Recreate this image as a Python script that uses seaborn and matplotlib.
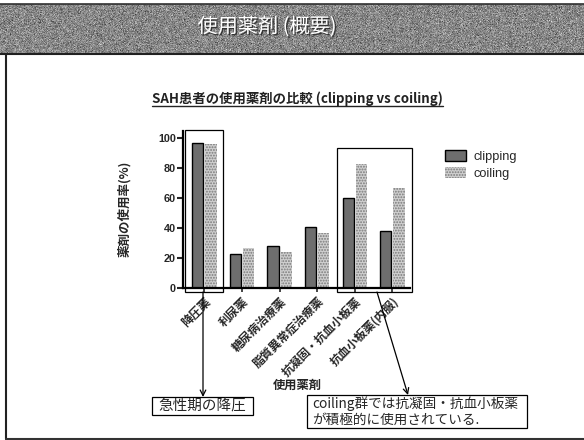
import numpy as np
import pandas as pd
import matplotlib
matplotlib.use("Agg")
import matplotlib.pyplot as plt
import matplotlib.patheffects as pe
from matplotlib.patches import Rectangle, Patch, FancyArrowPatch
from matplotlib.lines import Line2D
import seaborn as sns

# Drug categories and usage rates (%) per treatment group
drugs = ["降圧薬", "利尿薬", "糖尿病治療薬", "脂質異常症治療薬", "抗凝固・抗血小板薬", "抗血小板薬(内服)"]
groups = ["clipping", "coiling"]
clipping = [97, 23, 28, 41, 60, 38]
coiling = [96, 27, 24, 37, 83, 67]
yticks = [0, 20, 40, 60, 80, 100]

df = pd.DataFrame({
    "drug": drugs * 2,
    "rate": clipping + coiling,
    "group": ["clipping"] * len(drugs) + ["coiling"] * len(drugs),
})

sns.set_theme(style="ticks")
plt.rcParams["font.family"] = ["Noto Sans CJK JP", "DejaVu Sans"]
plt.rcParams["hatch.linewidth"] = 0.9

W, H = 584, 440
fig = plt.figure(figsize=(W / 100, H / 100), dpi=100)


def fx(x):
    return x / W


def fy(y):
    return 1 - y / H


# Slide header band with a grainy grey texture
hdr = fig.add_axes([0, fy(55), 1, (55 - 4) / H])
rng = np.random.default_rng(7)
tex = 0.53 + 0.09 * rng.standard_normal((51, 584))
hdr.imshow(np.clip(tex, 0, 1), cmap="gray", vmin=0, vmax=1, aspect="auto",
           interpolation="nearest")
hdr.set_axis_off()
fig.add_artist(Line2D([0, 1], [fy(4.5), fy(4.5)], color="#303030", lw=1.2))
fig.add_artist(Line2D([0, 1], [fy(54.5), fy(54.5)], color="#202020", lw=1.5))
fig.text(fx(267), fy(27), "使用薬剤 (概要)", color="white", fontsize=14.5,
         ha="center", va="center",
         path_effects=[pe.withSimplePatchShadow(offset=(1, -1), shadow_rgbFace="#222222", alpha=0.8)])

# Slide frame
fig.add_artist(Line2D([fx(6), fx(6)], [fy(55), fy(439)], color="#222222", lw=1.5))
fig.add_artist(Line2D([fx(6), 1], [fy(439), fy(439)], color="#333333", lw=1.5))

# Chart title with underline
fig.text(fx(297), fy(99), "SAH患者の使用薬剤の比較 (clipping vs coiling)",
         fontsize=9.6, fontweight="bold", ha="center", va="center", color="#222222")
fig.add_artist(Line2D([fx(152), fx(443)], [fy(106.5), fy(106.5)], color="#222222", lw=1.0))

# Bar chart
ax = fig.add_axes([fx(183), fy(288), 227 / W, 157.5 / H])
sns.barplot(data=df, x="drug", y="rate", hue="group", order=drugs, hue_order=groups,
            palette={"clipping": "#6e6e6e", "coiling": "#cfcfcf"},
            width=0.7, gap=0.15, legend=False, ax=ax)

for bar in ax.containers[0]:
    bar.set_edgecolor("black")
    bar.set_linewidth(1.0)
for bar in ax.containers[1]:
    bar.set_edgecolor("#7a7a7a")
    bar.set_hatch("......")
    bar.set_linewidth(0)

ax.set_xlim(-0.57, 5.47)
ax.set_ylim(0, 105)
ax.set_yticks(yticks)
ax.set_yticklabels([str(v) for v in yticks], fontsize=7.8, fontweight="bold",
                   family=["Liberation Sans", "DejaVu Sans"])
ax.set_xticks(range(len(drugs)))
ax.set_xticklabels(drugs, rotation=45, ha="right", rotation_mode="anchor",
                   fontsize=8.5, fontweight="bold")
ax.tick_params(axis="y", direction="out", length=4, width=1.5, pad=1)
ax.tick_params(axis="x", direction="out", length=3, width=1.2, pad=2)
ax.set_xlabel("")
ax.set_ylabel("薬剤の使用率(%)", fontsize=9, fontweight="bold")
ax.yaxis.set_label_coords((131 - 183) / 227, 0.5)
sns.despine(ax=ax)
for s in ("left", "bottom"):
    ax.spines[s].set_linewidth(1.6)
    ax.spines[s].set_color("black")

# Highlight frames around the discussed groups
ax.add_patch(Rectangle((-0.52, -2.7), 1.01, 108, fill=False, edgecolor="black",
                       lw=0.9, clip_on=False))
ax.add_patch(Rectangle((3.53, -2.7), 1.98, 96, fill=False, edgecolor="black",
                       lw=0.9, clip_on=False))

fig.text(fx(297), fy(385), "使用薬剤", fontsize=8.8, fontweight="bold",
         ha="center", va="center")

# Legend
handles = [
    Patch(facecolor="#6e6e6e", edgecolor="black", lw=1.0, label="clipping"),
    Patch(facecolor="#cfcfcf", edgecolor="#7a7a7a", hatch="......", lw=0, label="coiling"),
]
fig.legend(handles=handles, loc="upper left", bbox_to_anchor=(fx(433), fy(139)),
           frameon=False, handlelength=1.7, handleheight=0.9, handletextpad=0.6,
           labelspacing=0.3, prop={"family": "Liberation Sans", "size": 9.2})

# Callout boxes and arrows
fig.add_artist(Rectangle((fx(152), fy(415)), 101 / W, 18 / H, transform=fig.transFigure,
                         fill=True, facecolor="white", edgecolor="black", lw=0.9))
fig.text(fx(202.5), fy(406), "急性期の降圧", fontsize=10.5, ha="center", va="center")

fig.add_artist(Rectangle((fx(307), fy(428)), 220 / W, 33 / H, transform=fig.transFigure,
                         fill=True, facecolor="white", edgecolor="black", lw=0.9))
fig.text(fx(312), fy(403.5), "coiling群では抗凝固・抗血小板薬", fontsize=9.8,
         ha="left", va="center")
fig.text(fx(312), fy(419.5), "が積極的に使用されている.", fontsize=9.8,
         ha="left", va="center")

arrow = dict(arrowstyle="->", color="black", lw=0.9, mutation_scale=10,
             shrinkA=0, shrinkB=0)
fig.add_artist(FancyArrowPatch((fx(203), fy(292)), (fx(203), fy(397)),
                               transform=fig.transFigure, **arrow))
fig.add_artist(FancyArrowPatch((fx(377), fy(292)), (fx(408), fy(395)),
                               transform=fig.transFigure, **arrow))

fig.savefig("out.png", dpi=100)
